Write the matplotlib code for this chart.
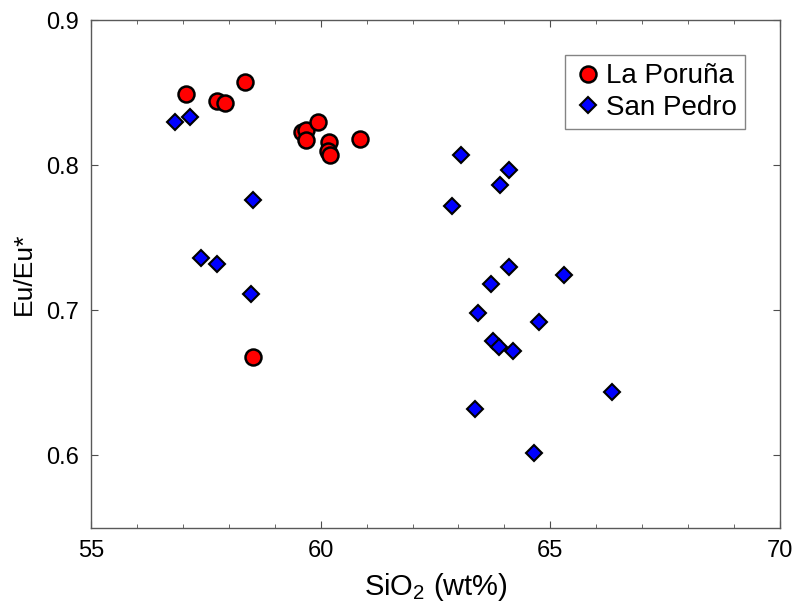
import matplotlib
matplotlib.use('Agg')
import matplotlib.pyplot as plt
from matplotlib.ticker import MultipleLocator

plt.rcParams['font.family'] = ['Liberation Sans', 'DejaVu Sans']
plt.rcParams['mathtext.default'] = 'regular'

# La Poruña
lp_sio2 = [57.06, 57.74, 57.92, 58.35, 59.59, 59.68, 59.67, 59.94, 60.19, 60.17, 60.20, 60.86, 58.53]
lp_eu = [0.849, 0.844, 0.843, 0.857, 0.823, 0.824, 0.817, 0.830, 0.816, 0.810, 0.807, 0.818, 0.668]

# San Pedro
sp_sio2 = [56.83, 57.16, 58.53, 57.39, 57.74, 58.48, 63.05, 64.10, 63.91, 62.85, 64.11,
           65.30, 63.71, 63.42, 64.75, 63.76, 63.88, 64.18, 66.35, 63.36, 64.65]
sp_eu = [0.830, 0.833, 0.776, 0.736, 0.732, 0.711, 0.807, 0.797, 0.786, 0.772, 0.730,
         0.724, 0.718, 0.698, 0.692, 0.679, 0.675, 0.672, 0.644, 0.632, 0.602]

fig = plt.figure(figsize=(7.97, 6.03), dpi=100)
ax = fig.add_axes([0.1142, 0.1244, 0.8645, 0.8424])

ax.plot(sp_sio2, sp_eu, linestyle='none', marker='D', markersize=8.5,
        markerfacecolor='#0000ff', markeredgecolor='black', markeredgewidth=1.5,
        label='San Pedro')
ax.plot(lp_sio2, lp_eu, linestyle='none', marker='o', markersize=11.5,
        markerfacecolor='#ff0000', markeredgecolor='black', markeredgewidth=1.8,
        label='La Poruña')

ax.set_xlim(55, 70)
ax.set_ylim(0.55, 0.9)
ax.xaxis.set_major_locator(MultipleLocator(5))
ax.xaxis.set_minor_locator(MultipleLocator(1))
ax.yaxis.set_major_locator(MultipleLocator(0.1))
ax.tick_params(which='both', direction='in', top=True, right=True, labelsize=17, color='0.3')
ax.tick_params(which='major', length=5, pad=9)
ax.tick_params(which='minor', length=3)
for s in ax.spines.values():
    s.set_color('0.35')
    s.set_linewidth(1.0)

ax.set_xlabel('SiO$_2$ (wt%)', fontsize=21, labelpad=6)
ax.set_ylabel('Eu/Eu*', fontsize=19, labelpad=7)

handles, labels = ax.get_legend_handles_labels()
leg = ax.legend(handles[::-1], labels[::-1], loc='upper right', bbox_to_anchor=(0.949, 0.931),
                borderaxespad=0, fancybox=False, fontsize=20, handletextpad=0.15,
                handlelength=1.0, borderpad=0.3, labelspacing=0.2)
leg.get_frame().set_edgecolor('0.4')
leg.get_frame().set_linewidth(1.0)

fig.savefig('out.png', dpi=100)
